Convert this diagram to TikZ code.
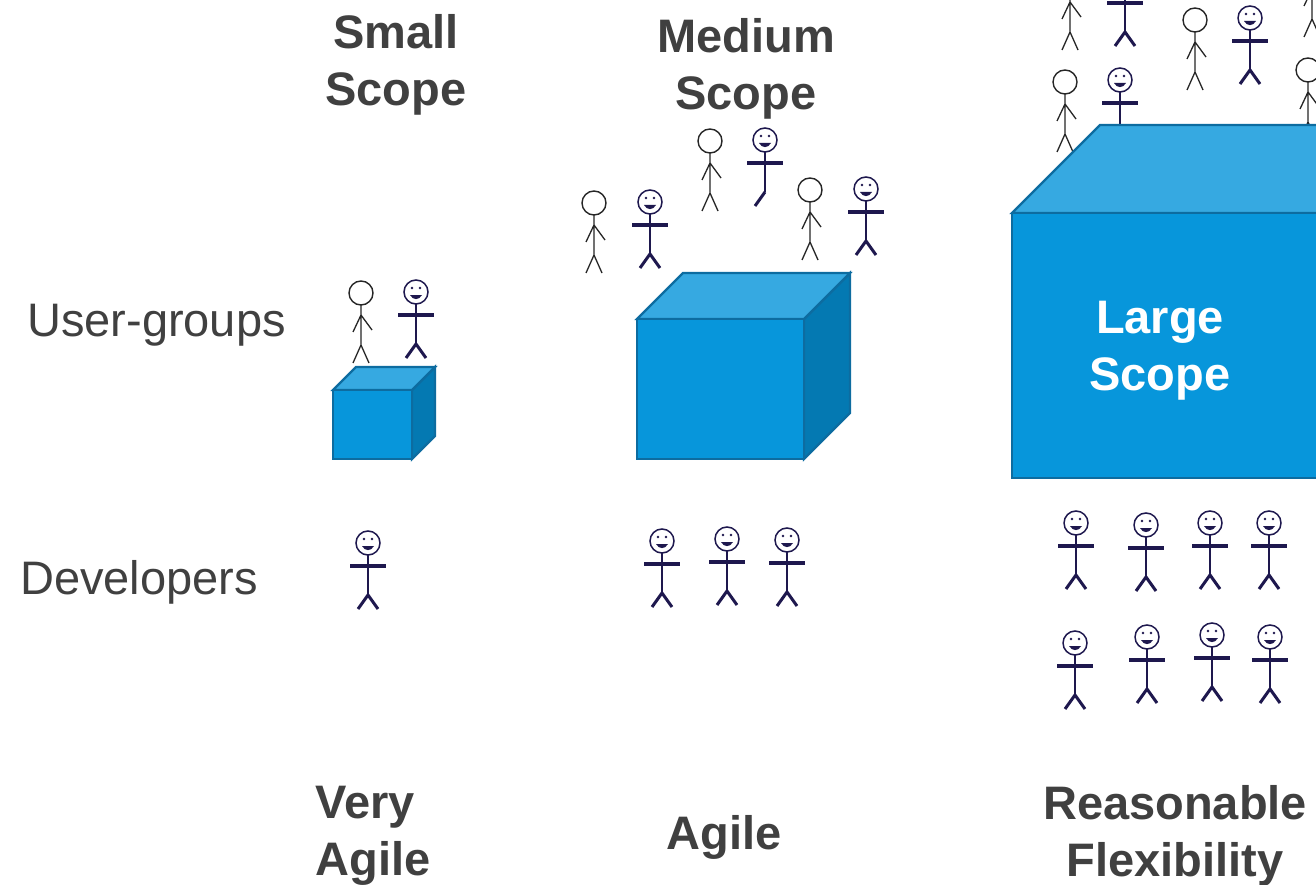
\documentclass[tikz,border=0pt]{standalone}
\usepackage{fontspec}
\setmainfont{Liberation Sans}
\usepackage{tikz}

\definecolor{txtgray}{RGB}{64,64,64}
\definecolor{cubefront}{RGB}{7,150,219}
\definecolor{cubetop}{RGB}{54,169,225}
\definecolor{cubeside}{RGB}{4,121,178}
\definecolor{cubeedge}{RGB}{13,108,160}
\definecolor{devcol}{RGB}{30,24,78}

% head, face, body and arms of a developer
\newcommand{\devtop}{%
  \draw[devcol, line width=1.5pt] (0,0) circle (12pt);
  \fill[devcol] (-4,-4) circle (1.3pt) (4,-4) circle (1.3pt);
  \fill[devcol] (-6,3) .. controls (-3,8.5) and (3,8.5) .. (6,3) -- cycle;
  \draw[devcol, line width=2pt] (0,12) -- (0,52);
  \draw[devcol, line width=3.5pt] (-18,23) -- (18,23);
}

% cube: x, y of front top-left corner, width, height, depth
\newcommand{\scopecube}[5]{%
  \filldraw[cubeface, fill=cubeside] (#1+#3,#2) -- ++(#5,-#5) -- ++(0,#4) -- ++(-#5,#5) -- cycle;
  \filldraw[cubeface, fill=cubetop] (#1,#2) -- ++(#5,-#5) -- ++(#3,0) -- ++(-#5,#5) -- cycle;
  \filldraw[cubeface, fill=cubefront] (#1,#2) rectangle ++(#3,#4);
}

\tikzset{
  cubeface/.style={draw=cubeedge, line width=2.2pt, line join=miter},
  pics/user/.style={code={
    \draw[black!85, line width=1.4pt] (0,0) circle (12pt);
    \draw[black!85, line width=1.3pt] (0,12) -- (0,52) (-8,39) -- (0,22) -- (11,37)
      (-8,70) -- (0,52) -- (8,70);
  }},
  pics/dev/.style={code={
    \devtop
    \draw[devcol, line width=3pt] (-10,66) -- (0,52) -- (10,66);
  }},
  pics/devhop/.style={code={
    \devtop
    \draw[devcol, line width=3pt] (-10,66) -- (0,52);
  }},
}

\begin{document}
\begin{tikzpicture}[
  x=1pt, y=-1pt,
  rowhead/.style={anchor=base west, inner sep=0pt, text=txtgray, font=\fontsize{47}{57}\selectfont},
  colhead/.style={inner sep=0pt, align=center, text=txtgray, font=\fontsize{47}{57}\selectfont\bfseries},
  cubetext/.style={inner sep=0pt, align=center, text=white, font=\fontsize{47}{57}\selectfont\bfseries}
]
\useasboundingbox (0,0) rectangle (1316,885);
\clip (0,0) rectangle (1316,885);
\fill[white] (0,0) rectangle (1316,885);

% column heads and row heads
\node[colhead] (small) at (396,65) {Small\\Scope};
\node[colhead] (medium) at (746,69) {Medium\\Scope};
\node[rowhead] (users) at (27,336) {User-groups};
\node[rowhead] (devs) at (20,594) {Developers};

% user groups
\pic at (361,293) {user};
\pic at (416,292) {dev};

\pic at (594,203) {user};
\pic at (650,202) {dev};
\pic at (710,141) {user};
\pic at (765,140) {devhop};
\pic at (810,190) {user};
\pic at (866,189) {dev};

\pic at (1070,-20) {user};
\pic at (1125,-20) {dev};
\pic at (1195,20) {user};
\pic at (1250,18) {dev};
\pic at (1312,-33) {user};
\pic at (1065,82) {user};
\pic at (1120,80) {dev};
\pic at (1308,70) {user};

% scopes
\scopecube{333}{390}{79}{69}{23}
\scopecube{637}{319}{167}{140}{46}
\scopecube{1012}{213}{400}{265}{88}
\node[cubetext] (large) at (1160,351) {Large\\Scope};

% developers
\pic at (368,543) {dev};

\foreach \x/\y in {662/541, 727/539, 787/540}
  \pic at (\x,\y) {dev};

\foreach \x/\y in {1076/523, 1146/525, 1210/523, 1269/523,
                   1075/643, 1147/637, 1212/635, 1270/637}
  \pic at (\x,\y) {dev};

% outcome per column
\node[colhead, align=left] (veryagile) at (373,836) {Very\\Agile};
\node[colhead, anchor=base] (agile) at (724,849) {Agile};
\node[colhead] (flexible) at (1175,836) {Reasonable\\Flexibility};

\end{tikzpicture}
\end{document}
